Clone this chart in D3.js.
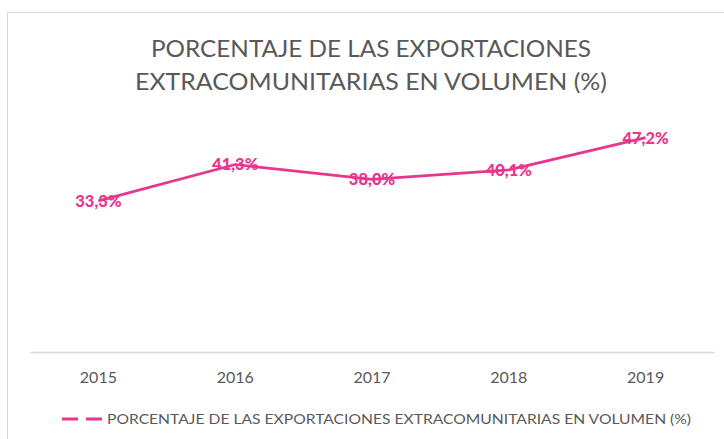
<!DOCTYPE html>
<style>
    body { margin: 0; background: #fff; }
    text { font-family: Lato, "Open Sans", sans-serif; }
</style>
<svg width="724" height="439"></svg>
<script src="https://cdn.jsdelivr.net/npm/d3@7"></script>
<script>
    var years = ["2015", "2016", "2017", "2018", "2019"];
    var values = [33.3, 41.3, 38.0, 40.1, 47.2];
    var titleLines = ["PORCENTAJE DE LAS EXPORTACIONES", "EXTRACOMUNITARIAS EN VOLUMEN (%)"];
    var seriesName = "PORCENTAJE DE LAS EXPORTACIONES EXTRACOMUNITARIAS EN VOLUMEN (%)";

    var svg = d3.select("svg"),
        pink = "#e8368f",
        grey = "#595959";

    // marco del grafico
    svg.append("rect")
        .attr("x", 7.5).attr("y", 12.5)
        .attr("width", 740).attr("height", 450)
        .attr("fill", "#fff")
        .attr("stroke", "#d9d9d9");

    // titulo
    var titleW = [440, 472];
    svg.append("g").selectAll("text")
        .data(titleLines)
        .enter().append("text")
        .attr("x", 371)
        .attr("y", function (d, i) { return 57 + i * 33; })
        .attr("text-anchor", "middle")
        .attr("font-size", 24)
        .attr("fill", grey)
        .attr("textLength", function (d, i) { return titleW[i]; })
        .attr("lengthAdjust", "spacingAndGlyphs")
        .text(function (d) { return d; });

    var x = d3.scaleBand()
        .domain(years)
        .range([30, 714]);

    var y = d3.scaleLinear()
        .domain([0, 50])
        .range([352, 125]);

    // eje x
    var xAxis = svg.append("g")
        .attr("transform", "translate(0,352)")
        .call(d3.axisBottom(x).tickSize(0).tickPadding(20));
    xAxis.select(".domain").attr("stroke", "#d9d9d9").attr("stroke-width", 1.5);
    xAxis.selectAll("text")
        .attr("font-family", "Lato, 'Open Sans', sans-serif")
        .attr("font-size", 16)
        .attr("fill", grey);

    var cx = function (d, i) { return x(years[i]) + x.bandwidth() / 2; };

    var line = d3.line()
        .x(function (d, i) { return cx(d, i); })
        .y(function (d) { return y(d); });

    svg.append("path")
        .datum(values)
        .attr("fill", "none")
        .attr("stroke", pink)
        .attr("stroke-width", 2.75)
        .attr("stroke-linejoin", "round")
        .attr("d", line);

    // etiquetas de datos
    svg.append("g").selectAll("text")
        .data(values)
        .enter().append("text")
        .attr("x", cx)
        .attr("y", function (d) { return y(d) + 6; })
        .attr("text-anchor", "middle")
        .attr("font-size", 16.5)
        .attr("font-weight", 900)
        .attr("fill", pink)
        .text(function (d) { return d.toFixed(1).replace(".", ",") + "%"; });

    // leyenda
    var lg = svg.append("g").attr("transform", "translate(62,419)");
    lg.append("line")
        .attr("x1", 0).attr("x2", 40)
        .attr("stroke", pink)
        .attr("stroke-width", 3)
        .attr("stroke-dasharray", "16,8");
    lg.append("text")
        .attr("x", 45)
        .attr("y", 5)
        .attr("font-size", 13.5)
        .attr("fill", grey)
        .attr("textLength", 584)
        .attr("lengthAdjust", "spacingAndGlyphs")
        .text(seriesName);
</script>
